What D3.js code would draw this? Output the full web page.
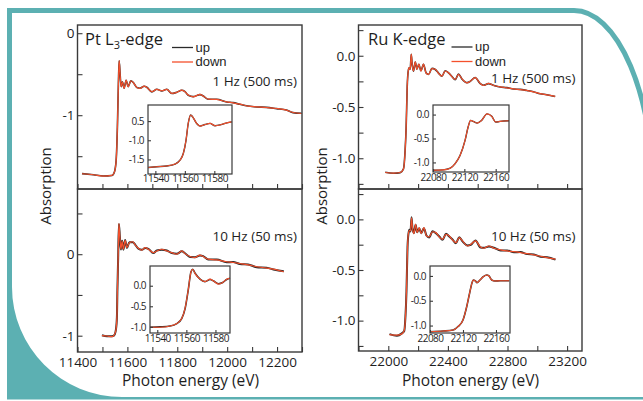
<!DOCTYPE html>
<html><head><meta charset="utf-8">
<script src="https://cdn.jsdelivr.net/npm/d3@7"></script>
<style>html,body{margin:0;padding:0;background:#fff;}svg{display:block;font-family:"Open Sans",sans-serif;}</style>
</head><body><svg id="c" width="643" height="401"></svg>
<script>
// ---------- DATA ----------
// Pt L3-edge, 1 Hz (500 ms)
const ptEnergy1 = [11418,11464,11504,11538,11548,11555,11560,11564,11567,11571,11575,11580,11587,11595,11603,11614,11624,11638,11651,11667,11678,11698,11718,11738,11758,11778,11798,11818,11831,11844,11864,11891,11904,11924,11958,11998,12024,12051,12084,12118,12158,12198,12238,12264,12298];
const ptDown1 = [-1.714,-1.726,-1.743,-1.734,-1.694,-1.551,-1.143,-0.612,-0.335,-0.51,-0.653,-0.592,-0.673,-0.571,-0.653,-0.58,-0.604,-0.661,-0.673,-0.645,-0.661,-0.714,-0.686,-0.702,-0.686,-0.734,-0.722,-0.694,-0.714,-0.755,-0.776,-0.747,-0.767,-0.804,-0.808,-0.837,-0.849,-0.865,-0.89,-0.898,-0.906,-0.918,-0.939,-0.967,-0.979];
const ptUp1   = [-1.712,-1.727,-1.741,-1.735,-1.692,-1.548,-1.140,-0.610,-0.338,-0.508,-0.651,-0.594,-0.671,-0.573,-0.651,-0.582,-0.602,-0.663,-0.671,-0.647,-0.659,-0.716,-0.684,-0.704,-0.684,-0.736,-0.720,-0.696,-0.712,-0.757,-0.774,-0.749,-0.765,-0.806,-0.806,-0.839,-0.847,-0.867,-0.888,-0.900,-0.904,-0.920,-0.937,-0.969,-0.977];
// Pt L3-edge, 10 Hz (50 ms)
const ptEnergy10 = [11498,11518,11538,11547,11554,11558,11560,11563,11566,11570,11574,11579,11584,11591,11598,11608,11622,11631,11644,11658,11671,11684,11704,11718,11738,11758,11778,11798,11818,11831,11851,11871,11891,11904,11924,11958,11998,12024,12051,12084,12118,12158,12191,12227];
const ptDown10 = [-1.0,-1.004,-1.012,-0.992,-0.931,-0.769,-0.445,-0.041,0.376,0.201,0.061,0.161,0.061,0.17,0.08,0.141,0.153,0.113,0.073,0.049,0.08,0.061,0.019,0.04,0.061,0.04,0.019,0.0,0.04,0.007,-0.029,-0.041,-0.012,-0.029,-0.061,-0.069,-0.093,-0.102,-0.114,-0.13,-0.154,-0.17,-0.187,-0.215];
const ptUp10   = [-0.995,-1.008,-1.006,-0.996,-0.926,-0.772,-0.440,-0.045,0.372,0.206,0.057,0.166,0.056,0.175,0.076,0.146,0.148,0.118,0.068,0.054,0.075,0.066,0.014,0.045,0.056,0.045,0.014,0.005,0.035,0.012,-0.034,-0.036,-0.017,-0.024,-0.066,-0.064,-0.098,-0.097,-0.119,-0.125,-0.159,-0.165,-0.192,-0.210];
// Ru K-edge, 1 Hz (500 ms)
const ruEnergy1 = [21979,22035,22080,22102,22113,22120,22127,22134,22140,22147,22154,22160,22169,22181,22192,22205,22219,22236,22254,22270,22293,22315,22337,22360,22382,22404,22427,22449,22471,22494,22528,22550,22583,22617,22639,22672,22706,22751,22796,22840,22885,22930,22974,23019,23064,23120];
const ruDown1 = [-1.139,-1.145,-1.139,-1.105,-0.924,-0.693,-0.297,-0.149,-0.115,-0.132,0.017,-0.082,-0.149,-0.059,-0.132,-0.082,-0.149,-0.082,-0.171,-0.181,-0.125,-0.132,-0.171,-0.198,-0.149,-0.165,-0.204,-0.231,-0.181,-0.224,-0.264,-0.248,-0.214,-0.27,-0.29,-0.27,-0.29,-0.303,-0.313,-0.323,-0.33,-0.337,-0.353,-0.369,-0.382,-0.396];
const ruUp1   = [-1.137,-1.146,-1.140,-1.103,-0.921,-0.690,-0.300,-0.147,-0.117,-0.130,0.014,-0.080,-0.151,-0.061,-0.130,-0.084,-0.147,-0.084,-0.169,-0.183,-0.123,-0.134,-0.169,-0.200,-0.147,-0.167,-0.202,-0.233,-0.179,-0.226,-0.262,-0.250,-0.212,-0.272,-0.288,-0.272,-0.288,-0.305,-0.311,-0.325,-0.328,-0.339,-0.351,-0.371,-0.380,-0.398];
// Ru K-edge, 10 Hz (50 ms)
const ruEnergy10 = [22008,22058,22091,22107,22115,22122,22129,22136,22142,22149,22156,22162,22172,22183,22194,22207,22221,22239,22256,22274,22297,22319,22342,22364,22387,22409,22431,22454,22476,22498,22532,22554,22585,22619,22642,22675,22709,22753,22798,22843,22887,22932,22977,23021,23066,23122];
const ruDown10 = [-1.138,-1.144,-1.131,-1.098,-0.967,-0.705,-0.279,-0.131,-0.108,-0.115,0.016,-0.082,-0.141,-0.049,-0.131,-0.082,-0.141,-0.082,-0.164,-0.174,-0.122,-0.131,-0.174,-0.197,-0.148,-0.164,-0.204,-0.23,-0.181,-0.213,-0.263,-0.246,-0.213,-0.272,-0.285,-0.263,-0.285,-0.302,-0.312,-0.319,-0.328,-0.338,-0.351,-0.364,-0.378,-0.393];
const ruUp10   = [-1.133,-1.149,-1.126,-1.103,-0.962,-0.710,-0.274,-0.136,-0.103,-0.120,0.021,-0.087,-0.136,-0.054,-0.126,-0.087,-0.136,-0.087,-0.159,-0.179,-0.117,-0.136,-0.169,-0.202,-0.143,-0.169,-0.199,-0.235,-0.176,-0.218,-0.258,-0.251,-0.208,-0.277,-0.280,-0.268,-0.280,-0.307,-0.307,-0.324,-0.323,-0.343,-0.346,-0.369,-0.373,-0.398];
// insets (XANES region)
const ptInsetEnergy1 = [11535,11540.9,11547.7,11553.3,11556.7,11559,11560.8,11562.3,11564,11565.3,11568,11570.3,11573.7,11577.1,11580.5,11583.9,11587.3,11591.8];
const ptInsetDown1 = [-1.71,-1.69,-1.67,-1.62,-1.52,-1.34,-1.0,-0.56,-0.34,-0.39,-0.56,-0.63,-0.59,-0.56,-0.62,-0.60,-0.56,-0.52];
const ptInsetUp1   = [-1.71,-1.69,-1.67,-1.62,-1.52,-1.34,-1.0,-0.56,-0.34,-0.39,-0.56,-0.63,-0.59,-0.56,-0.62,-0.60,-0.56,-0.52];
const ptInsetEnergy10 = [11535,11541.9,11548.8,11553.4,11556.8,11559.1,11561.3,11563.2,11564.4,11565.9,11569.4,11572.8,11576.3,11578.5,11582,11585,11587.7,11590];
const ptInsetDown10 = [-1.01,-1.01,-0.98,-0.92,-0.80,-0.55,-0.10,0.34,0.40,0.30,0.16,0.10,0.16,0.12,0.04,0.08,0.16,0.18];
const ptInsetUp10   = [-1.01,-1.00,-0.98,-0.92,-0.80,-0.56,-0.10,0.34,0.40,0.31,0.16,0.10,0.15,0.12,0.05,0.08,0.15,0.18];
const ruInsetEnergy1 = [22080,22093,22102,22108,22114.5,22121,22125,22128,22131.4,22136.5,22142,22149,22155,22160,22165.5,22177];
const ruInsetDown1 = [-1.163,-1.156,-1.12,-1.03,-0.857,-0.535,-0.25,-0.122,-0.143,-0.178,-0.122,0.015,-0.036,-0.156,-0.143,-0.128];
const ruInsetUp1   = [-1.163,-1.156,-1.12,-1.03,-0.857,-0.535,-0.25,-0.122,-0.143,-0.178,-0.122,0.015,-0.036,-0.156,-0.143,-0.128];
const ruInsetEnergy10 = [22080,22096,22108,22114,22120,22124.5,22128,22131,22132.5,22135,22137,22140.6,22144.6,22148.7,22151.5,22154.8,22158.8,22164.9,22176];
const ruInsetDown10 = [-1.124,-1.11,-1.09,-1.02,-0.888,-0.62,-0.35,-0.136,-0.082,-0.102,-0.136,-0.082,-0.016,0.019,-0.001,-0.082,-0.102,-0.096,-0.096];
const ruInsetUp10   = [-1.124,-1.11,-1.09,-1.02,-0.888,-0.62,-0.35,-0.136,-0.082,-0.102,-0.136,-0.082,-0.016,0.019,-0.001,-0.082,-0.102,-0.096,-0.096];

// tick values / labels
const ptXTicks = [11400,11500,11600,11700,11800,11900,12000,12100,12200,12300];
const ptXLabels = [11400,11600,11800,12000,12200];
const ruXTicks = [21800,22000,22200,22400,22600,22800,23000,23200];
const ruXLabels = [22000,22400,22800,23200];
const ptY1Major = [0,-1], ptY1Minor = [-0.5,-1.5];
const ptY10Major = [0,-1], ptY10Minor = [0.5,-0.5];
const ruYMajor = [0,-0.5,-1], ruYMinor = [0.25,-0.25,-0.75,-1.25];
const ruYLabels = ["0.0","-0.5","-1.0"];
const ptInset1YTicks = [-0.5,-1.0,-1.5], ptInset1YLabels = ["0.5","-1.0","-1.5"];
const ptInset10YTicks = [0,-0.5,-1.0], ptInset10YLabels = ["0.0","-0.5","-1.0"];
const ruInsetYTicks = [0,-0.5,-1.0], ruInsetYLabels = ["0.0","-0.5","-1.0"];
const ptInsetXTicks = [11540,11560,11580];
const ruInsetXTicks = [22080,22120,22160];
const seriesNames = ["up","down"];

// ---------- DRAW ----------
const svg = d3.select("#c");
const teal = "#5cb0b2", upCol = "#2a2a2a", downCol = "#f4502c", axCol = "#3a3a3a", txt = "#1e1e1e";

// decorative frame
svg.append("path").attr("d","M7,10.5 H574 A80 189.5 0 0 1 654 200").attr("fill","none").attr("stroke",teal).attr("stroke-width",5);
svg.append("rect").attr("x",7).attr("y",8).attr("width",5).attr("height",285).attr("fill",teal);
svg.append("path").attr("d","M7,250 H12 V287 A110 110 0 0 0 122 397 H643 V399.5 H7 Z").attr("fill",teal);

function styleAxis(g, fs, ls){
  g.select(".domain").remove();
  g.attr("font-family",null).attr("font-size",null);
  g.selectAll("line").attr("stroke",axCol).attr("stroke-width",1.1);
  g.selectAll("text").attr("fill",txt).style("font-size",fs+"px").style("font-family","'Open Sans',sans-serif").style("letter-spacing",(ls||0)+"px");
}

function panel(p){
  const x = d3.scaleLinear().domain(p.xd).range([p.l,p.r]);
  const y = d3.scaleLinear().domain(p.yd).range([p.b,p.t]);
  const g = svg.append("g");
  if(p.inset) g.append("rect").attr("x",p.l).attr("y",p.t).attr("width",p.r-p.l).attr("height",p.b-p.t).attr("fill","#fff");
  const line = d3.line().x(d=>x(d[0])).y(d=>y(d[1])).curve(d3.curveMonotoneX);
  g.append("path").attr("d",line(d3.zip(p.e,p.up))).attr("fill","none").attr("stroke",upCol).attr("stroke-width",p.upW).attr("stroke-linejoin","round");
  g.append("path").attr("d",line(d3.zip(p.e,p.down))).attr("fill","none").attr("stroke",downCol).attr("stroke-width",p.downW).attr("stroke-linejoin","round");
  const ts = p.inset ? 3 : 5;
  if(p.yMinor){
    g.append("g").attr("transform",`translate(${p.l},0)`).call(d3.axisLeft(y).tickValues(p.yMinor).tickFormat("").tickSize(-ts)).call(a=>styleAxis(a,p.fs));
  }
  g.append("g").attr("transform",`translate(${p.l},0)`)
    .call(d3.axisLeft(y).tickValues(p.yMajor).tickFormat((d,i)=>p.yLabels[i]).tickSize(-ts).tickPadding(p.yPad))
    .call(a=>styleAxis(a,p.fs,p.ls));
  if(p.xTicks){
    g.append("g").attr("transform",`translate(0,${p.b})`)
      .call(d3.axisBottom(x).tickValues(p.xTicks).tickFormat(d=>p.xLabels && p.xLabels.includes(d) ? String(d) : "").tickSize(-ts).tickPadding(p.xPad))
      .call(a=>styleAxis(a,p.fs,p.ls));
  }
  g.append("rect").attr("x",p.l).attr("y",p.t).attr("width",p.r-p.l).attr("height",p.b-p.t).attr("fill","none").attr("stroke",axCol).attr("stroke-width",p.inset?1.2:1.4);
  return g;
}

// main panels
panel({xd:[11400,12300],yd:[-1.9,0.1],l:77.5,r:302,t:25,b:189,e:ptEnergy1,up:ptUp1,down:ptDown1,upW:1.6,downW:1.2,
  yMajor:ptY1Major,yLabels:["0","-1"],yMinor:ptY1Minor,yPad:3,xTicks:ptXTicks,xLabels:null,xPad:3,fs:13.5});
panel({xd:[11400,12300],yd:[-1.2,0.8],l:77.5,r:302,t:189,b:352,e:ptEnergy10,up:ptUp10,down:ptDown10,upW:2,downW:1.2,
  yMajor:ptY10Major,yLabels:["0","-1"],yMinor:ptY10Minor,yPad:3,xTicks:ptXTicks,xLabels:ptXLabels,xPad:5,fs:13.5});
panel({xd:[21800,23300],yd:[-1.3,0.3],l:358.5,r:582,t:25,b:189,e:ruEnergy1,up:ruUp1,down:ruDown1,upW:1.6,downW:1.2,
  yMajor:ruYMajor,yLabels:ruYLabels,yMinor:ruYMinor,yPad:3,xTicks:ruXTicks,xLabels:null,xPad:3,fs:13.5});
panel({xd:[21800,23300],yd:[-1.3,0.3],l:358.5,r:582,t:189,b:351,e:ruEnergy10,up:ruUp10,down:ruDown10,upW:2,downW:1.2,
  yMajor:ruYMajor,yLabels:ruYLabels,yMinor:ruYMinor,yPad:3,xTicks:ruXTicks,xLabels:ruXLabels,xPad:5,fs:13.5});

// insets
panel({inset:true,xd:[11535,11592],yd:[-1.88,-0.08],l:148,r:232,t:105,b:174,e:ptInsetEnergy1,up:ptInsetUp1,down:ptInsetDown1,upW:1.4,downW:1.1,
  yMajor:ptInset1YTicks,yLabels:ptInset1YLabels,yPad:4,xTicks:ptInsetXTicks,xLabels:ptInsetXTicks,xPad:1,fs:10,ls:-0.5});
panel({inset:true,xd:[11535,11590],yd:[-1.15,0.48],l:150,r:230,t:266,b:333,e:ptInsetEnergy10,up:ptInsetUp10,down:ptInsetDown10,upW:1.6,downW:1.1,
  yMajor:ptInset10YTicks,yLabels:ptInset10YLabels,yPad:4,xTicks:ptInsetXTicks,xLabels:ptInsetXTicks,xPad:2,fs:10,ls:-0.5});
panel({inset:true,xd:[22080,22177],yd:[-1.2,0.2],l:433,r:509,t:105,b:172,e:ruInsetEnergy1,up:ruInsetUp1,down:ruInsetDown1,upW:1.4,downW:1.1,
  yMajor:ruInsetYTicks,yLabels:ruInsetYLabels,yPad:4,xTicks:ruInsetXTicks,xLabels:ruInsetXTicks,xPad:2,fs:10,ls:-0.5});
panel({inset:true,xd:[22080,22177],yd:[-1.15,0.2],l:430,r:510,t:266,b:333,e:ruInsetEnergy10,up:ruInsetUp10,down:ruInsetDown10,upW:1.6,downW:1.1,
  yMajor:ruInsetYTicks,yLabels:ruInsetYLabels,yPad:4,xTicks:ruInsetXTicks,xLabels:ruInsetXTicks,xPad:2,fs:10,ls:-0.5});

// texts
function text(x,y,s,fs,anchor){
  return svg.append("text").attr("x",x).attr("y",y).attr("fill",txt).attr("font-size",fs).attr("text-anchor",anchor||"start").text(s);
}
const t1 = svg.append("text").attr("x",85).attr("y",44.5).attr("fill",txt).attr("font-size",16.5);
t1.append("tspan").text("Pt L");
t1.append("tspan").attr("font-size",11).attr("dy",4).text("3");
t1.append("tspan").attr("dy",-4).text("-edge");
text(368,44.5,"Ru K-edge",16.5);

// legends
function legend(x0,yUp,yDown){
  [[yUp,upCol,seriesNames[0]],[yDown,downCol,seriesNames[1]]].forEach(([yy,c,n])=>{
    svg.append("line").attr("x1",x0).attr("x2",x0+21).attr("y1",yy).attr("y2",yy).attr("stroke",c).attr("stroke-width",1.3);
    text(x0+23.5,yy+4,n,13).attr("font-family","'Liberation Sans',Arial,sans-serif");
  });
}
legend(172,47.5,62);
legend(451.5,47,61.5);

text(297,86,"1 Hz (500 ms)",13.5,"end");
text(575.5,82.5,"1 Hz (500 ms)",13.5,"end");
text(297,240.5,"10 Hz (50 ms)",13.5,"end");
text(575.5,240.5,"10 Hz (50 ms)",13.5,"end");

text(190.5,386,"Photon energy (eV)",15.5,"middle");
text(470.5,386,"Photon energy (eV)",15.5,"middle");
svg.append("text").attr("transform","translate(51,186) rotate(-90)").attr("text-anchor","middle").attr("fill",txt).attr("font-size",15).text("Absorption");
svg.append("text").attr("transform","translate(327,186) rotate(-90)").attr("text-anchor","middle").attr("fill",txt).attr("font-size",15).text("Absorption");
</script></body></html>
